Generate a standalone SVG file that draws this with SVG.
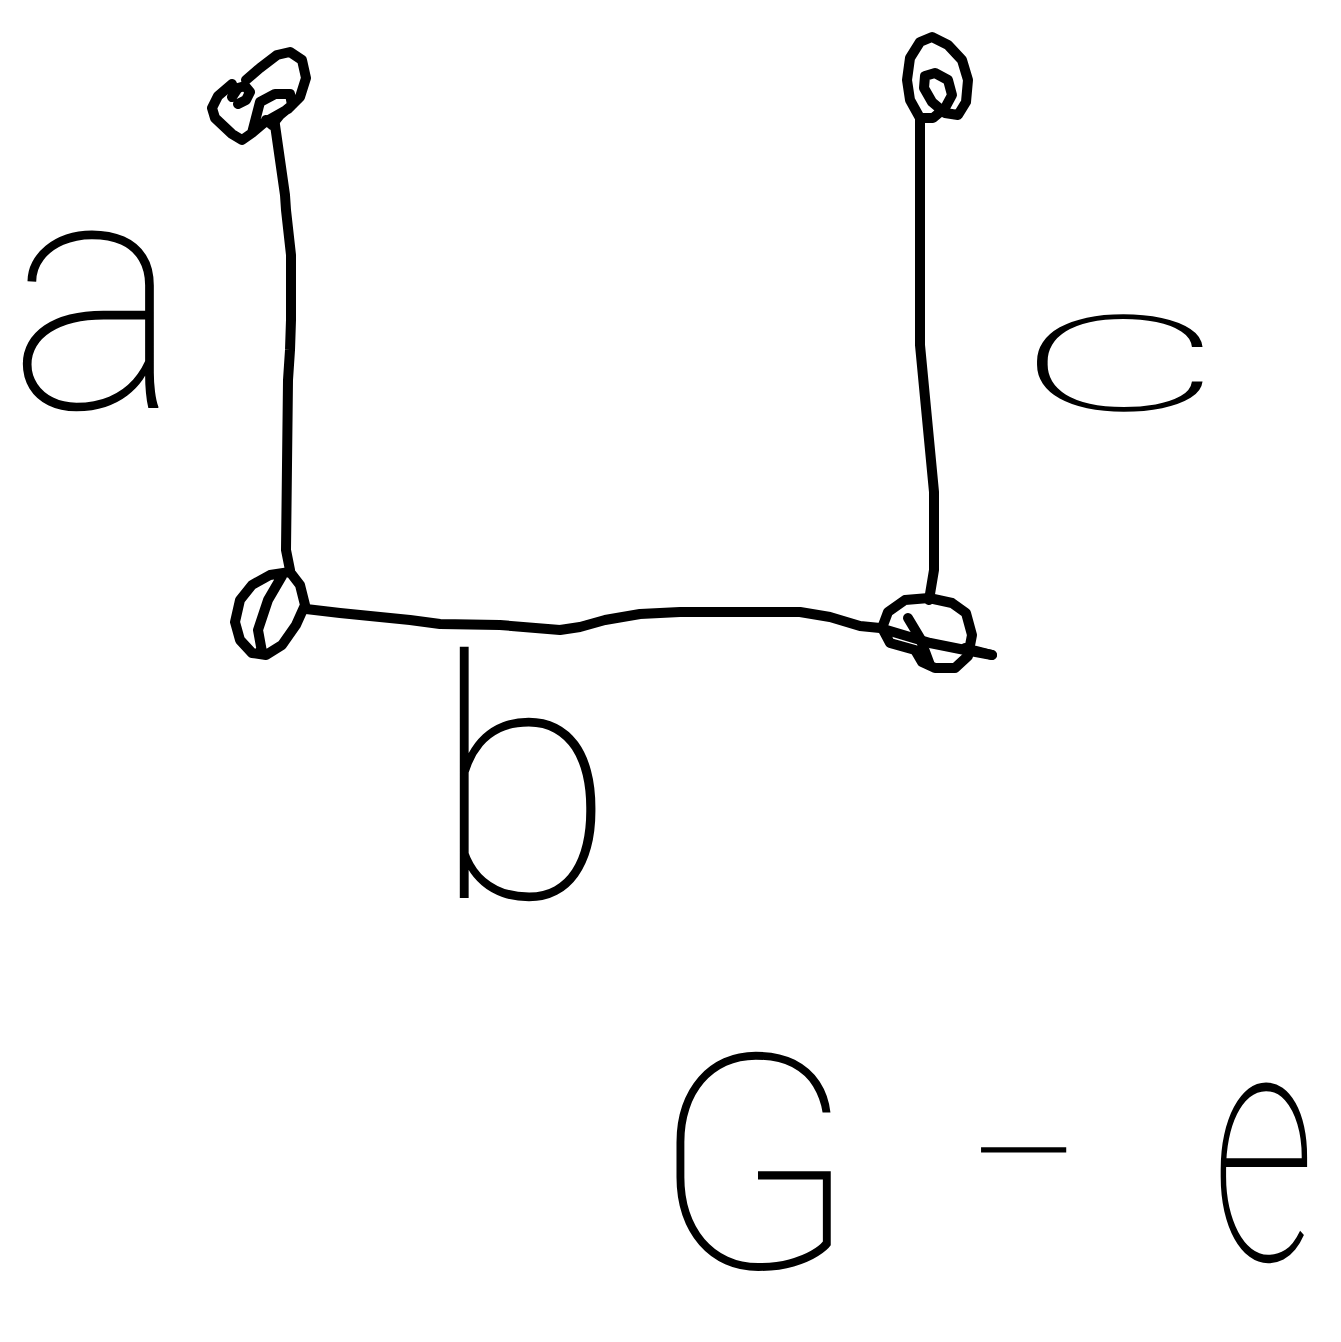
<svg xmlns="http://www.w3.org/2000/svg" width="1341" height="1342" viewBox="0 0 1341 1342">
<style>
.s{fill:none;stroke:#000;stroke-width:10;stroke-linecap:round;stroke-linejoin:round}
.t{font-family:Roboto,"DejaVu Sans","Liberation Sans",sans-serif;font-weight:100;fill:#000}
</style>
<rect width="1341" height="1342" fill="#fff"/>
<g id="connectors">
<path class="s" d="M274,118 L285,195 L286,210 L291,255 L291,320 L290,350 L288,380 L286,550 L290,570"/>
<path class="s" d="M306,609 L340,613 L410,620 L440,624 L500,625 L560,630 L580,627 L605,620 L640,614 L680,612 L800,612 L830,617 L860,626 L880,628 L930,643 L965,650 L992,655"/>
<path class="s" d="M920,118 L920,345 L934,492 L934,570 L929,600"/>
</g>
<g id="node-top-left">
<path class="s" d="M232,84 L218,96 L212,108 L215,118 L232,134 L242,140 L252,133 L265,122 L288,109 L300,97 L306,78 L302,60 L290,52 L277,55 L260,68 L246,80 M232,97 L238,88 L245,86 L250,92 L246,100 L238,104 M252,133 L260,102 L275,94 L290,94 L292,105 L280,115 L272,125 L266,120"/>
</g>
<g id="node-bottom-left">
<path class="s" d="M290,572 L300,585 L305,605 L296,625 L282,645 L266,655 L252,653 L240,640 L235,622 L240,600 L252,585 L270,575 Z M282,576 L268,600 L258,630 L262,652"/>
</g>
<g id="node-top-right">
<path class="s" d="M920,118 L910,100 L907,80 L910,58 L920,42 L932,37 L948,45 L962,60 L968,80 L966,102 L958,115 L945,113 L932,102 L924,88 L925,76 L935,73 L948,80 L952,95 L945,108 L933,118 L920,118"/>
</g>
<g id="node-bottom-right">
<path class="s" d="M929,598 L905,600 L888,612 L882,628 L890,643 L915,650 L922,662 L935,668 L955,668 L968,656 L972,635 L966,613 L952,603 Z M908,618 L920,638 L930,665 M992,655 L965,648"/>
</g>
<g id="labels">
<text class="t" x="8" y="408" font-size="330">a</text>
<text class="t" x="432" y="898" font-size="335">b</text>
<text class="t" x="1018" y="410" font-size="178" textLength="204" lengthAdjust="spacingAndGlyphs">c</text>
<text class="t" x="652" y="1268" font-size="300" textLength="205" lengthAdjust="spacingAndGlyphs">G</text>
<text class="t" x="970" y="1215" font-size="200" textLength="110" lengthAdjust="spacingAndGlyphs">-</text>
<text class="t" transform="translate(1212,1260) scale(0.62,1)" font-size="330">e</text>
</g>
</svg>
